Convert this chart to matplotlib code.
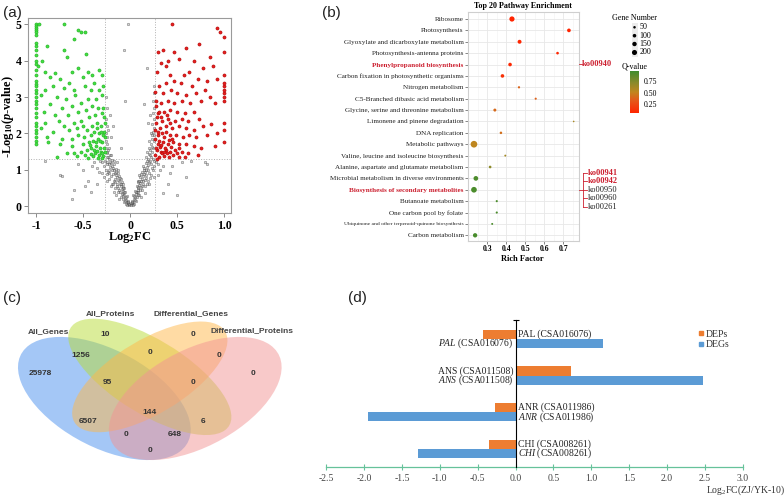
import numpy as np
import matplotlib
matplotlib.use('Agg')
import matplotlib.pyplot as plt
from matplotlib.patches import Ellipse, Rectangle
from matplotlib.lines import Line2D
from matplotlib.colors import LinearSegmentedColormap, Normalize
from matplotlib.cm import ScalarMappable

plt.rcParams['font.family'] = 'serif'
plt.rcParams['font.serif'] = ['Liberation Serif', 'DejaVu Serif']
plt.rcParams['axes.unicode_minus'] = False
plt.rcParams['mathtext.fontset'] = 'custom'
plt.rcParams['mathtext.rm'] = 'Liberation Serif'
plt.rcParams['mathtext.it'] = 'Liberation Serif:italic'
plt.rcParams['mathtext.bf'] = 'Liberation Serif:bold'
try:
    plt.rcParams['mathtext.bfit'] = 'Liberation Serif:italic:bold'
except KeyError:
    pass
plt.rcParams['mathtext.default'] = 'regular'

# ---------------- data: (a) volcano ----------------
green_pts = [(-1, 5.0), (-1, 4.95), (-1, 4.9), (-1, 4.85), (-1, 4.8), (-1, 4.7), (-1, 4.5), (-1, 4.4), (-1, 4.3),
             (-1, 4.15), (-1, 4.0), (-1, 3.9), (-1, 3.75), (-1, 3.6), (-1, 3.45), (-1, 3.35), (-1, 3.3), (-1, 3.2),
             (-1, 3.1), (-1, 3.0), (-1, 2.9), (-1, 2.8), (-1, 2.7), (-1, 2.55), (-1, 2.45), (-1, 2.3), (-1, 2.2),
             (-1, 2.1), (-1, 2.0), (-1, 1.9), (-1, 1.8), (-1, 1.7),
             (-0.97, 5.0), (-0.7, 5.0), (-0.55, 4.85), (-0.52, 4.8), (-0.48, 4.8), (-0.6, 4.6), (-0.88, 4.4),
             (-0.7, 4.3), (-0.47, 4.2), (-0.67, 4.1), (-0.94, 4.0), (-0.98, 3.85), (-0.9, 3.7), (-0.8, 3.65),
             (-0.85, 3.55), (-0.75, 3.5), (-0.62, 3.7), (-0.55, 3.8), (-0.45, 3.7), (-0.4, 3.6), (-0.33, 3.75),
             (-0.3, 3.6), (-0.5, 3.55), (-0.65, 3.4), (-0.7, 3.25), (-0.6, 3.2), (-0.82, 3.3), (-0.9, 3.2),
             (-0.95, 3.05), (-0.78, 3.0), (-0.68, 2.95), (-0.58, 3.05), (-0.48, 3.3), (-0.42, 3.2), (-0.38, 3.4),
             (-0.33, 3.2), (-0.29, 3.3), (-0.3, 3.05), (-0.36, 2.95), (-0.45, 2.95), (-0.52, 2.85), (-0.62, 2.75),
             (-0.72, 2.7), (-0.85, 2.8), (-0.92, 2.6), (-0.8, 2.5), (-0.66, 2.5), (-0.55, 2.6), (-0.47, 2.65),
             (-0.4, 2.75), (-0.34, 2.7), (-0.3, 2.55), (-0.28, 2.45), (-0.37, 2.5), (-0.44, 2.45), (-0.52, 2.35),
             (-0.6, 2.3), (-0.7, 2.2), (-0.76, 2.35), (-0.9, 2.3), (-0.95, 2.15), (-0.82, 2.05), (-0.65, 2.1),
             (-0.56, 2.15), (-0.5, 2.2), (-0.46, 2.1), (-0.4, 2.2), (-0.35, 2.3), (-0.31, 2.2), (-0.28, 2.05),
             (-0.33, 2.0), (-0.38, 2.05), (-0.42, 1.95), (-0.49, 1.9), (-0.55, 1.95), (-0.62, 1.85), (-0.72, 1.85),
             (-0.88, 1.9), (-0.87, 1.75), (-0.75, 1.7), (-0.62, 1.65), (-0.5, 1.7), (-0.44, 1.75), (-0.39, 1.8),
             (-0.34, 1.85), (-0.3, 1.75), (-0.28, 1.6), (-0.32, 1.6), (-0.36, 1.65), (-0.41, 1.6), (-0.46, 1.55),
             (-0.52, 1.5), (-0.6, 1.45), (-0.67, 1.45), (-0.78, 1.35), (-0.56, 1.38), (-0.48, 1.4), (-0.42, 1.42),
             (-0.37, 1.45), (-0.33, 1.4), (-0.29, 1.38), (-0.31, 1.5), (-0.35, 1.52), (-0.39, 1.38), (-0.45, 1.32),
             (-0.3, 1.32), (-0.27, 1.5), (-0.27, 1.9), (-0.27, 2.3), (-0.29, 1.95), (-0.32, 1.8), (-0.36, 1.75),
             (-0.3, 1.45), (-0.34, 1.33), (-0.38, 1.55), (-0.43, 1.68), (-0.31, 2.05), (-0.35, 2.15), (-0.29, 2.7)]

red_pts = [(1.0, 1.75), (1.0, 2.1), (1.0, 2.3), (1.0, 2.9), (1.0, 3.0), (1.0, 3.1), (1.0, 3.2), (1.0, 3.3),
           (1.0, 3.4), (1.0, 3.6), (1.0, 4.25), (1.0, 4.65), (0.93, 4.9), (0.96, 4.8), (0.45, 5.0),
           (0.35, 4.3), (0.3, 4.25), (0.47, 4.25), (0.6, 4.35), (0.73, 4.45), (0.85, 4.1), (0.68, 4.0),
           (0.52, 4.05), (0.4, 4.0), (0.33, 3.95), (0.38, 3.85), (0.29, 3.7), (0.43, 3.6), (0.57, 3.6),
           (0.63, 3.7), (0.78, 3.8), (0.88, 3.85), (0.92, 3.5), (0.82, 3.45), (0.72, 3.5), (0.66, 3.3),
           (0.54, 3.4), (0.47, 3.45), (0.38, 3.4), (0.31, 3.3), (0.27, 3.15), (0.35, 3.1), (0.44, 3.2),
           (0.5, 3.1), (0.6, 3.05), (0.7, 3.1), (0.8, 3.2), (0.85, 3.0), (0.9, 2.85), (0.76, 2.9), (0.64, 2.85),
           (0.55, 2.9), (0.47, 2.85), (0.4, 2.9), (0.33, 2.85), (0.28, 2.75), (0.3, 2.55), (0.36, 2.6),
           (0.43, 2.65), (0.5, 2.6), (0.58, 2.55), (0.68, 2.6), (0.73, 2.4), (0.62, 2.35), (0.55, 2.4),
           (0.48, 2.35), (0.4, 2.4), (0.34, 2.35), (0.28, 2.3), (0.27, 2.1), (0.32, 2.15), (0.38, 2.2),
           (0.45, 2.15), (0.52, 2.2), (0.6, 2.15), (0.68, 2.1), (0.78, 2.2), (0.86, 2.25), (0.92, 2.0),
           (0.82, 1.95), (0.7, 1.9), (0.63, 1.95), (0.56, 1.9), (0.49, 1.95), (0.42, 1.95), (0.36, 1.9),
           (0.3, 1.95), (0.27, 1.85), (0.3, 1.7), (0.35, 1.75), (0.4, 1.7), (0.46, 1.75), (0.52, 1.7),
           (0.6, 1.7), (0.68, 1.65), (0.75, 1.6), (0.9, 1.65), (0.72, 1.4), (0.62, 1.45), (0.55, 1.5),
           (0.48, 1.55), (0.43, 1.5), (0.38, 1.55), (0.33, 1.5), (0.29, 1.55), (0.27, 1.4), (0.31, 1.35),
           (0.36, 1.38), (0.41, 1.35), (0.46, 1.4), (0.52, 1.35), (0.58, 1.35), (0.34, 1.45), (0.39, 1.45),
           (0.5, 1.45), (0.28, 1.6), (0.32, 1.62), (0.37, 1.6), (0.44, 1.62), (0.31, 1.8), (0.34, 2.0),
           (0.3, 2.05), (0.29, 2.45), (0.39, 2.5), (0.33, 2.45), (0.45, 1.85), (0.38, 2.05), (0.29, 1.3),
           (0.33, 1.68), (0.41, 1.82), (0.36, 1.5), (0.43, 2.3), (0.31, 2.6), (0.28, 2.9), (0.52, 1.6)]

gray_pts = [(-0.01, 0.02), (-0.02, 0.05), (-0.03, 0.1), (-0.02, 0.15), (-0.04, 0.18), (-0.05, 0.22), (-0.03, 0.28),
            (-0.06, 0.3), (-0.07, 0.35), (-0.05, 0.4), (-0.08, 0.42), (-0.09, 0.48), (-0.07, 0.52), (-0.1, 0.55),
            (-0.11, 0.6), (-0.09, 0.65), (-0.12, 0.68), (-0.13, 0.72), (-0.11, 0.78), (-0.14, 0.8), (-0.15, 0.85),
            (-0.13, 0.9), (-0.16, 0.92), (-0.17, 0.98), (-0.15, 1.02), (-0.18, 1.05), (-0.19, 1.1), (-0.17, 1.15),
            (-0.2, 1.18), (-0.21, 1.22), (-0.19, 1.26), (-0.22, 1.3), (-0.23, 1.35), (-0.21, 1.4), (-0.24, 1.45),
            (-0.25, 1.5), (-0.23, 1.55), (-0.26, 1.6), (-0.25, 1.7), (-0.26, 1.8), (-0.24, 1.9), (-0.26, 2.0),
            (-0.25, 2.2), (-0.26, 2.4), (-0.25, 2.7), (-0.26, 3.0),
            (-0.04, 0.05), (-0.06, 0.12), (-0.1, 0.25), (-0.13, 0.38), (-0.16, 0.5), (-0.19, 0.62), (-0.22, 0.75),
            (-0.24, 0.88), (-0.26, 1.0), (-0.28, 1.1), (-0.3, 1.2), (-0.32, 1.25), (-0.25, 1.15), (-0.23, 0.95),
            (-0.2, 0.82), (-0.17, 0.7), (-0.14, 0.55), (-0.12, 0.45), (-0.09, 0.32), (-0.07, 0.2), (-0.2, 0.55),
            (-0.25, 0.7), (-0.3, 0.9), (-0.35, 1.05), (-0.38, 1.2), (-0.33, 0.95), (-0.28, 0.8), (-0.17, 0.4),
            (-0.22, 1.0), (-0.27, 1.25), (-0.12, 0.2), (-0.15, 0.3), (-0.08, 0.6), (-0.1, 0.75), (-0.06, 0.5),
            (-0.13, 1.0), (-0.17, 1.25), (-0.2, 1.4), (-0.14, 1.2), (-0.22, 1.6), (-0.2, 1.9), (-0.23, 2.1),
            (-0.21, 2.5), (-0.18, 2.2), (-0.02, 0.08), (-0.03, 0.04), (-0.05, 0.14), (-0.08, 0.27), (-0.11, 0.4),
            (-0.14, 0.62), (-0.16, 0.75), (-0.18, 0.88), (-0.21, 1.08), (-0.24, 1.2), (-0.18, 0.6), (-0.22, 0.9),
            (-0.01, 0.06), (-0.02, 0.11), (-0.04, 0.26), (-0.06, 0.38), (-0.08, 0.5), (-0.1, 0.62), (-0.12, 0.82),
            (-0.15, 0.95), (-0.19, 1.0), (-0.22, 1.15), (-0.24, 1.35), (-0.16, 0.65), (-0.13, 0.5),
            (-0.9, 1.25), (-0.75, 0.85), (-0.72, 0.82), (-0.6, 0.45), (-0.62, 0.2), (-0.45, 0.7), (-0.5, 1.0),
            (-0.42, 0.4), (-0.55, 1.15), (-0.4, 1.1), (-0.02, 5.0), (-0.06, 4.3), (-0.05, 2.9), (-0.1, 1.6),
            (-0.35, 0.6), (-0.48, 0.55),
            (0.01, 0.02), (0.02, 0.06), (0.03, 0.1), (0.02, 0.14), (0.04, 0.2), (0.05, 0.24), (0.03, 0.3),
            (0.06, 0.33), (0.07, 0.38), (0.05, 0.42), (0.08, 0.45), (0.09, 0.5), (0.07, 0.55), (0.1, 0.58),
            (0.11, 0.63), (0.09, 0.68), (0.12, 0.7), (0.13, 0.75), (0.11, 0.8), (0.14, 0.83), (0.15, 0.88),
            (0.13, 0.93), (0.16, 0.95), (0.17, 1.0), (0.15, 1.05), (0.18, 1.08), (0.19, 1.12), (0.17, 1.18),
            (0.2, 1.2), (0.21, 1.25), (0.19, 1.3), (0.22, 1.35), (0.2, 1.42), (0.23, 1.48), (0.21, 1.55),
            (0.24, 1.6), (0.22, 1.7), (0.25, 1.78), (0.23, 1.85), (0.25, 1.95), (0.24, 2.05), (0.25, 2.15),
            (0.23, 2.25), (0.25, 2.4), (0.24, 2.55), (0.25, 2.7), (0.22, 2.0), (0.2, 1.8), (0.18, 1.5),
            (0.04, 0.05), (0.06, 0.15), (0.1, 0.3), (0.13, 0.45), (0.16, 0.55), (0.19, 0.7), (0.22, 0.85),
            (0.24, 1.0), (0.26, 1.1), (0.28, 1.2), (0.3, 1.15), (0.25, 1.25), (0.23, 1.05), (0.2, 0.92),
            (0.17, 0.78), (0.14, 0.62), (0.12, 0.52), (0.09, 0.4), (0.07, 0.25), (0.2, 0.6), (0.26, 0.8),
            (0.32, 1.0), (0.35, 1.1), (0.3, 0.85), (0.16, 0.35), (0.12, 0.25), (0.08, 0.65), (0.1, 0.85),
            (0.14, 1.1), (0.17, 1.35), (0.2, 1.6), (0.23, 1.95), (0.19, 2.3), (0.21, 2.5), (0.24, 2.9),
            (0.25, 3.1), (0.26, 3.3), (0.02, 0.09), (0.03, 0.04), (0.05, 0.16), (0.08, 0.3), (0.11, 0.45),
            (0.14, 0.68), (0.17, 0.85), (0.19, 0.98), (0.22, 1.15), (0.24, 1.3), (0.18, 0.62), (0.21, 0.78),
            (0.01, 0.07), (0.02, 0.12), (0.04, 0.28), (0.06, 0.4), (0.08, 0.52), (0.1, 0.7), (0.12, 0.88),
            (0.15, 0.98), (0.18, 1.25), (0.21, 1.4), (0.23, 1.62), (0.16, 0.72), (0.13, 0.55),
            (0.18, 3.8), (0.15, 2.8), (0.5, 0.3), (0.55, 1.2), (0.6, 0.8), (0.45, 1.1), (0.8, 1.22),
            (0.82, 1.15), (0.4, 0.6), (0.65, 1.25), (0.42, 0.9), (0.35, 0.35)]

volcano_xticks = [-1, -0.5, 0, 0.5, 1.0]
volcano_xticklabels = ['-1', '-0.5', '0', '0.5', '1.0']
volcano_yticks = [0, 1, 2, 3, 4, 5]

# ---------------- data: (b) KEGG enrichment ----------------
pathways = ['Ribosome', 'Photosynthesis', 'Glyoxylate and dicarboxylate metabolism',
            'Photosynthesis-antenna proteins', 'Phenylpropanoid biosynthesis',
            'Carbon fixation in photosynthetic organisms', 'Nitrogen metabolism',
            'C5-Branched dibasic acid metabolism', 'Glycine, serine and threonine metabolism',
            'Limonene and pinene degradation', 'DNA replication', 'Metabolic pathways',
            'Valine, leucine and isoleucine biosynthesis', 'Alanine, aspartate and glutamate metabolism',
            'Microbial metabolism in diverse environments', 'Biosynthesis of secondary metabolites',
            'Butanoate metabolism', 'One carbon pool by folate',
            'Ubiquinone and other terpenoid-quinone biosynthesis', 'Carbon metabolism']
rich_factor = [0.43, 0.73, 0.47, 0.67, 0.42, 0.38, 0.467, 0.555, 0.34, 0.755,
               0.372, 0.23, 0.395, 0.315, 0.24, 0.23, 0.35, 0.35, 0.326, 0.236]
gene_number = [210, 105, 120, 55, 100, 100, 40, 35, 70, 20,
               50, 345, 30, 55, 170, 250, 35, 35, 30, 145]
q_value = [0.05, 0.05, 0.06, 0.06, 0.08, 0.12, 0.38, 0.36, 0.4, 0.6,
           0.42, 0.52, 0.62, 0.7, 0.92, 0.93, 0.93, 0.93, 0.93, 0.94]
highlighted = ['Phenylpropanoid biosynthesis', 'Biosynthesis of secondary metabolites']
rich_ticks = [0.3, 0.4, 0.5, 0.6, 0.7]
size_legend = [50, 100, 150, 200]
q_ticks = [0.25, 0.50, 0.75]
ko_single = 'ko00940'
ko_group = ['ko00941', 'ko00942', 'ko00950', 'ko00960', 'ko00261']
ko_group_red = [True, True, False, False, False]

# ---------------- data: (c) Venn ----------------
venn_sets = ['All_Genes', 'All_Proteins', 'Differential_Genes', 'Differential_Proteins']
venn_counts = ['25978', '1256', '10', '0', '0', '0', '0', '95', '0', '144', '6507', '6', '0', '648', '0']

# ---------------- data: (d) bars ----------------
genes = ['CHI', 'ANR', 'ANS', 'PAL']
gene_ids = ['CSA008261', 'CSA011986', 'CSA011508', 'CSA016076']
dep_values = [-0.35, -0.27, 0.73, -0.43]
deg_values = [-1.29, -1.95, 2.47, 1.16]
d_xticks = [-2.5, -2.0, -1.5, -1.0, -0.5, 0.0, 0.5, 1.0, 1.5, 2.0, 2.5, 3.0]

# ======================================================
W, H = 784, 498
fig = plt.figure(figsize=(W / 100, H / 100), dpi=100)


def box(l, t, r, b):
    return [l / W, 1 - b / H, (r - l) / W, (b - t) / H]


def fx(x):
    return x / W


def fy(y):
    return 1 - y / H


# ---------- panel (a) ----------
ax = fig.add_axes(box(28.3, 18.3, 231, 213.3))
gx, gy = zip(*gray_pts)
ax.scatter(gx, gy, s=3.5, facecolor=(0.7, 0.7, 0.7, 0.5), edgecolor=(0.1, 0.1, 0.1, 0.55), linewidth=0.35, zorder=2)
grx, gry = zip(*green_pts)
ax.scatter(grx, gry, s=5, facecolor='#44e044', edgecolor='#1fae1f', linewidth=0.4, zorder=3)
rx, ry = zip(*red_pts)
ax.scatter(rx, ry, s=5, facecolor='#e52222', edgecolor='#b00000', linewidth=0.4, zorder=3)
for xv in (-0.263, 0.263):
    ax.axvline(xv, color='#b0b0b0', lw=0.7, ls=':', zorder=1)
ax.axhline(1.301, color='#b0b0b0', lw=0.7, ls=':', zorder=1)
ax.set_xlim(-1.082, 1.074)
ax.set_ylim(-0.2, 5.17)
ax.set_xticks(volcano_xticks)
ax.set_xticklabels(volcano_xticklabels)
ax.set_yticks(volcano_yticks)
for sp in ax.spines.values():
    sp.set_color('#9a9a9a')
    sp.set_linewidth(0.8)
ax.tick_params(length=3, width=0.6, color='#777777', labelsize=8.5, pad=2)
for lab in ax.get_xticklabels() + ax.get_yticklabels():
    lab.set_fontweight('bold')
fig.text(fx(130), fy(237.5), 'Log$_2$FC', ha='center', va='center', fontsize=9, fontweight='bold')
fig.text(fx(8.5), fy(117), r'-Log$_{10}$($\mathbfit{p}$-value)', ha='center', va='center', rotation=90,
         fontsize=9, fontweight='bold')

# ---------- panel (b) ----------
cmap = LinearSegmentedColormap.from_list('qv', [(0.0, '#ff2400'), (0.3, '#e4581a'), (0.5, '#c0861e'),
                                                (0.72, '#8a8a2a'), (1.0, '#3e8c2c')])
norm = Normalize(vmin=0.048, vmax=0.974)
axb = fig.add_axes(box(467.7, 11.7, 579, 240.7))
ypos = np.arange(len(pathways))
sizes = np.array(gene_number) * 0.067
axb.scatter(rich_factor, ypos, s=sizes, c=q_value, cmap=cmap, norm=norm, zorder=3, linewidths=0)
axb.set_xlim(0.197, 0.783)
axb.set_ylim(19.474, -0.641)
axb.set_yticks(ypos)
axb.set_yticklabels(pathways)
axb.set_xticks(rich_ticks)
axb.set_xticklabels(['0.3', '0.4', '0.5', '0.6', '0.7'])
axb.set_xticks([0.25, 0.35, 0.45, 0.55, 0.65, 0.75], minor=True)
axb.grid(True, which='major', color='#e8e8e8', lw=0.6, zorder=0)
axb.grid(True, which='minor', axis='x', color='#f2f2f2', lw=0.4, zorder=0)
axb.set_axisbelow(True)
for sp in axb.spines.values():
    sp.set_color('#cfcfcf')
    sp.set_linewidth(0.8)
axb.tick_params(axis='both', which='major', length=2, width=0.5, color='#555555', pad=1)
axb.tick_params(axis='x', which='minor', length=0)
axb.tick_params(axis='y', labelsize=5.15, labelcolor='#222222')
axb.tick_params(axis='x', labelsize=5.6)
for lab in axb.get_xticklabels():
    lab.set_fontweight('bold')
for lab in axb.get_yticklabels():
    t = lab.get_text()
    if t in highlighted:
        lab.set_color('#cc2030')
        lab.set_fontweight('bold')
    if t.startswith('Ubiquinone'):
        lab.set_fontsize(3.95)
axb.set_title('Top 20 Pathway Enrichment', fontsize=5.8, fontweight='bold', pad=2.5)
fig.text(fx(522), fy(259), 'Rich Factor', ha='center', va='center', fontsize=6, fontweight='bold')

# size legend
lax = fig.add_axes(box(600, 0, 700, 120))
lax.set_xlim(600, 700)
lax.set_ylim(120, 0)
lax.axis('off')
lax.add_patch(Rectangle((631.5, 23), 6, 34.5, facecolor='#ececec', edgecolor='none', zorder=1))
leg_y = [27.3, 35.7, 44.0, 52.5]
lax.scatter([634.5] * 4, leg_y, s=np.array(size_legend) * 0.067, color='black', zorder=3, linewidths=0)
for v, yy in zip(size_legend, leg_y):
    lax.text(639.5, yy, str(v), ha='left', va='center', fontsize=5.8)
lax.text(635, 18.3, 'Gene Number', ha='center', va='center', fontsize=5.8)
lax.text(634.5, 66.3, 'Q-value', ha='center', va='center', fontsize=5.8)

# colour bar
cax = fig.add_axes(box(630, 70.7, 639, 113.3))
cb = fig.colorbar(ScalarMappable(norm=norm, cmap=cmap), cax=cax, ticks=q_ticks)
cb.outline.set_visible(False)
cb.ax.tick_params(length=2, width=0.5, color='white', labelsize=5.6, pad=1.5)
cb.ax.set_yticklabels(['0.25', '0.50', '0.75'])

# ko annotations
fig.add_artist(Line2D([fx(579), fx(581.5)], [fy(63.8), fy(63.8)], color='#cc2030', lw=0.6))
fig.text(fx(581.8), fy(63.8), ko_single, ha='left', va='center', fontsize=6, color='#cc2030', fontweight='bold')
ko_y = [173.0, 181.3, 189.6, 198.0, 206.5]
fig.add_artist(Line2D([fx(583), fx(583)], [fy(ko_y[0]), fy(ko_y[-1])], color='#cc2030', lw=0.6))
fig.add_artist(Line2D([fx(579), fx(583)], [fy(189.5), fy(189.5)], color='#cc2030', lw=0.6))
for lab, yy, isred in zip(ko_group, ko_y, ko_group_red):
    fig.add_artist(Line2D([fx(583), fx(587)], [fy(yy), fy(yy)], color='#cc2030', lw=0.6))
    fig.text(fx(588), fy(yy), lab, ha='left', va='center', fontsize=6,
             color='#cc2030' if isred else '#222222', fontweight='bold' if isred else 'normal')

# ---------- panel (c) Venn ----------
axc = fig.add_axes(box(-1.7, 284, 301.3, 500))
axc.set_xlim(0, 1)
axc.set_ylim(0, 1)
axc.axis('off')
ell_specs = [((0.35, 0.47), 0.35, 0.20, 135, '#4a90ee'),
             ((0.50, 0.57), 0.35, 0.15, 135, '#b8dc36'),
             ((0.50, 0.57), 0.33, 0.15, 45, '#ffb84a'),
             ((0.65, 0.47), 0.35, 0.20, 45, '#f29494')]
for (c, a, b, ang, col) in ell_specs:
    axc.add_patch(Ellipse(c, 2 * a, 2 * b, angle=ang, facecolor=col, alpha=0.5, edgecolor='none', clip_on=False))

count_px = [(40, 373.3), (81, 355.3), (105, 334), (150, 352.3), (192.7, 334), (219.3, 355.7), (252.7, 373.3),
            (107.7, 382.3), (192.7, 382.3), (150, 412.3), (88.3, 421.3), (202.7, 421.3), (126, 434),
            (175, 434), (150, 450)]
for txt, (px, py) in zip(venn_counts, count_px):
    fig.text(fx(px), fy(py), txt, ha='center', va='center', fontsize=6, fontweight='bold',
             color='#333333', family='Liberation Sans')
set_px = [(48, 331.7), (110, 314), (191, 314), (251.7, 331)]
for txt, (px, py) in zip(venn_sets, set_px):
    fig.text(fx(px), fy(py), txt, ha='center', va='center', fontsize=6, fontweight='bold',
             color='#444444', family='Liberation Sans')

# ---------- panel (d) ----------
axd = fig.add_axes(box(326.2, 320, 742.9, 466.7))
idx = np.arange(len(genes))
bh = 0.25
col_dep = '#ED7D31'
col_deg = '#5B9BD5'
axd.barh(idx + bh / 2, dep_values, height=bh, color=col_dep, zorder=2)
axd.barh(idx - bh / 2, deg_values, height=bh, color=col_deg, zorder=2)
axd.set_xlim(-2.5, 3.0)
axd.set_ylim(-0.482, 3.512)
axd.spines['top'].set_visible(False)
axd.spines['right'].set_visible(False)
axd.spines['left'].set_position(('data', 0))
axd.spines['left'].set_color('black')
axd.spines['left'].set_linewidth(0.8)
axd.spines['left'].set_zorder(3)
axd.spines['bottom'].set_color('#66c29a')
axd.spines['bottom'].set_linewidth(0.9)
axd.set_xticks(d_xticks)
axd.set_xticklabels(['%.1f' % v for v in d_xticks])
axd.tick_params(axis='x', direction='inout', length=5, width=0.8, color='#66c29a', labelsize=7,
                labelcolor='#444444', pad=3)
axd.set_yticks([3.512])
axd.set_yticklabels([''])
axd.tick_params(axis='y', direction='inout', length=4, width=0.8, color='black')
for i, (g, gid, dv, gv) in enumerate(zip(genes, gene_ids, dep_values, deg_values)):
    for val, yy, lab in ((dv, i + bh / 2, '%s (%s)' % (g, gid)),
                         (gv, i - bh / 2, r'$\mathit{%s}$ (%s)' % (g, gid))):
        if val < 0:
            axd.annotate(lab, (0, yy), xytext=(2, 0), textcoords='offset points', ha='left', va='center',
                         fontsize=6.9, color='#222222')
        else:
            axd.annotate(lab, (0, yy), xytext=(-1.5, 0), textcoords='offset points', ha='right', va='center',
                         fontsize=6.9, color='#222222')
fig.text(fx(745), fy(490.7), 'Log$_2$FC(ZJ/YK-10)', ha='center', va='center', fontsize=7, color='#333333')
handles = [Line2D([], [], marker='s', ls='none', color=col_dep, markersize=3.2, label='DEPs'),
           Line2D([], [], marker='s', ls='none', color=col_deg, markersize=3.2, label='DEGs')]
fig.legend(handles=handles, loc='upper left', bbox_to_anchor=(fx(699), fy(329.5)), frameon=False,
           fontsize=7, handlelength=0.5, handletextpad=0.15, labelspacing=0.15, borderpad=0, borderaxespad=0,
           labelcolor='#333333')

# ---------- panel labels ----------
for txt, (px, py) in zip(['(a)', '(b)', '(c)', '(d)'], [(12, 13), (331, 13), (12, 298), (357, 298)]):
    fig.text(fx(px), fy(py), txt, ha='center', va='center', fontsize=11, family='Liberation Sans',
             color='#222222')

fig.savefig('out.png', dpi=100)
